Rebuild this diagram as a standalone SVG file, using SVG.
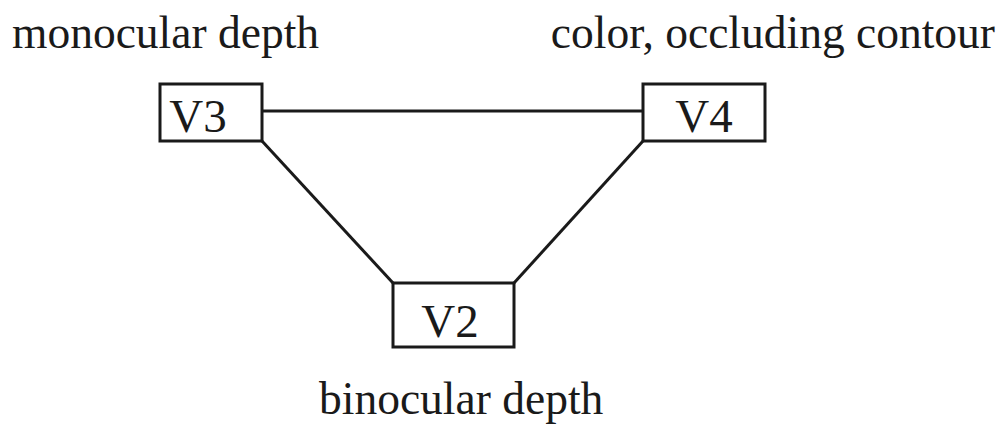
<svg xmlns="http://www.w3.org/2000/svg" width="1006" height="433" viewBox="0 0 1006 433">
<style>
.box{fill:#fff;stroke:#1a1a1a;stroke-width:3}
.lbl{font-family:"Liberation Serif","Times New Roman",serif;font-size:45.5px;fill:#1a1a1a}
.nd{font-family:"Liberation Serif","Times New Roman",serif;font-size:47px;fill:#1a1a1a;text-anchor:middle}
.edge{stroke:#1a1a1a;stroke-width:3;fill:none}
</style>
<rect width="1006" height="433" fill="#fff"/>
<g id="connectors">
<line class="edge" x1="262" y1="111" x2="643" y2="111"/>
<line class="edge" x1="262" y1="141" x2="393" y2="283"/>
<line class="edge" x1="643" y1="141" x2="514" y2="283"/>
</g>
<g id="V3">
<rect class="box" x="160" y="84" width="102" height="57"/>
<text class="nd" x="198" y="132">V3</text>
</g>
<g id="V4">
<rect class="box" x="643" y="84" width="122" height="57"/>
<text class="nd" x="704" y="132">V4</text>
</g>
<g id="V2">
<rect class="box" x="393" y="283" width="121" height="64"/>
<text class="nd" x="450" y="337">V2</text>
</g>
<text class="lbl" x="12" y="48">monocular depth</text>
<text class="lbl" x="995" y="48" text-anchor="end">color, occluding contour</text>
<text class="lbl" x="319" y="414">binocular depth</text>
</svg>
